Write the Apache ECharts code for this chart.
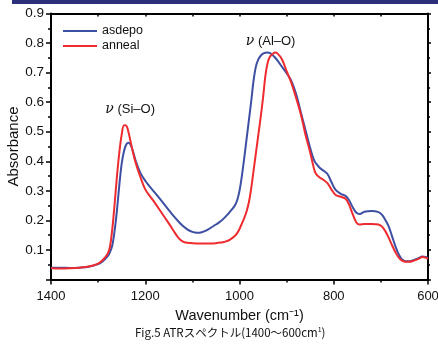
<!DOCTYPE html>
<html>
<head>
<meta charset="utf-8">
<script src="https://cdn.jsdelivr.net/npm/echarts@6/dist/echarts.min.js"></script>
<style>
  html, body { margin: 0; padding: 0; background: #ffffff; }
  #chart { width: 438px; height: 349px; }
</style>
</head>
<body>
<div id="chart"></div>
<script>
// Wavenumber grid (cm^-1) shared by both spectra
var wavenumbers = [1400,1380,1360,1340,1320,1300,1290,1280,1275,1270,1265,1260,1255,1250,1245,1240,1235,1230,1225,1220,1210,1200,1190,1180,1170,1160,1150,1140,1130,1120,1110,1100,1090,1080,1070,1060,1050,1040,1030,1020,1010,1005,1000,995,990,985,980,975,970,965,960,955,950,945,940,935,930,925,920,910,900,890,880,870,860,850,845,840,835,830,820,813,805,796,785,775,768,760,752,745,735,720,705,697,690,683,676,669,662,655,648,640,630,620,612,605,600];

// Absorbance, as-deposited film
var asdepo = [0.040,0.040,0.039,0.040,0.043,0.052,0.062,0.078,0.092,0.115,0.165,0.235,0.320,0.392,0.435,0.458,0.463,0.452,0.428,0.400,0.360,0.334,0.313,0.295,0.275,0.255,0.235,0.215,0.197,0.181,0.169,0.161,0.158,0.160,0.166,0.176,0.186,0.197,0.212,0.230,0.250,0.268,0.300,0.350,0.410,0.475,0.540,0.605,0.675,0.722,0.745,0.757,0.764,0.767,0.768,0.766,0.760,0.752,0.742,0.720,0.698,0.672,0.628,0.567,0.506,0.445,0.418,0.398,0.388,0.378,0.366,0.356,0.330,0.303,0.290,0.283,0.270,0.245,0.226,0.222,0.229,0.232,0.228,0.218,0.200,0.178,0.145,0.112,0.085,0.068,0.062,0.062,0.066,0.072,0.078,0.076,0.072];

// Absorbance, annealed film
var anneal = [0.038,0.037,0.038,0.040,0.044,0.054,0.066,0.086,0.110,0.170,0.255,0.350,0.430,0.490,0.522,0.520,0.495,0.458,0.423,0.393,0.345,0.305,0.282,0.260,0.237,0.213,0.190,0.165,0.142,0.128,0.124,0.123,0.122,0.122,0.122,0.122,0.123,0.125,0.128,0.135,0.147,0.157,0.171,0.189,0.208,0.230,0.262,0.310,0.370,0.430,0.490,0.550,0.615,0.690,0.735,0.755,0.762,0.768,0.766,0.745,0.705,0.665,0.615,0.560,0.490,0.430,0.395,0.365,0.352,0.345,0.335,0.325,0.305,0.286,0.280,0.273,0.255,0.222,0.193,0.186,0.188,0.188,0.186,0.178,0.162,0.140,0.115,0.092,0.074,0.064,0.060,0.060,0.064,0.070,0.076,0.074,0.070];

// Axis ranges and peak labels
var xRange = [600, 1400];
var yRange = [0, 0.9];
var bandLabels = [
  { name: 'Si-O', at: [1232, 0.575] },
  { name: 'Al-O', at: [934, 0.807] }
];

function pairs(ys) {
  return wavenumbers.map(function (w, i) { return [w, ys[i]]; });
}

var FONT = '"Liberation Sans", Arial, sans-serif';
var chart = echarts.init(document.getElementById('chart'), null, { renderer: 'canvas' });

var bandMarks = bandLabels.map(function (b) {
  return {
    coord: b.at,
    symbol: 'circle',
    symbolSize: 0,
    label: {
      show: true,
      position: 'inside',
      formatter: '{nu|ν}{t| (' + b.name.replace('-', '–') + ')}',
      rich: {
        nu: { fontFamily: '"DejaVu Serif", serif', fontStyle: 'italic', fontSize: 14, color: '#111' },
        t: { fontFamily: FONT, fontSize: 13, color: '#111' }
      }
    }
  };
});

var axisLineStyle = { color: '#000', width: 2 };
var lineIcon = 'path://M0,0 L34,0 L34,2 L0,2 Z';

chart.setOption({
  animation: false,
  backgroundColor: '#ffffff',
  grid: { left: 51, right: 10, top: 13.5, bottom: 69.5, containLabel: false, outerBoundsMode: 'none' },
  legend: {
    left: 63, top: 24, orient: 'vertical', padding: 0,
    itemWidth: 34, itemHeight: 2, itemGap: 1,
    textStyle: { fontFamily: FONT, fontSize: 12.5, color: '#111', lineHeight: 14 },
    data: [
      { name: 'asdepo', icon: lineIcon },
      { name: 'anneal', icon: lineIcon }
    ]
  },
  xAxis: [
    {
      type: 'value', min: xRange[0], max: xRange[1], interval: 200, inverse: true,
      name: 'Wavenumber (cm⁻¹)', nameLocation: 'middle', nameGap: 29, nameMoveOverlap: false,
      nameTextStyle: { fontFamily: FONT, fontSize: 14.5, color: '#111' },
      axisLine: { show: true, onZero: false, lineStyle: axisLineStyle },
      axisTick: { show: true, inside: false, length: 5, lineStyle: { color: '#000', width: 1.5 } },
      minorTick: { show: true, splitNumber: 2, length: 3, lineStyle: { color: '#000', width: 1.5 } },
      axisLabel: {
        fontFamily: FONT, fontSize: 13, color: '#111', margin: 10,
        formatter: function (v) { return String(v); }
      },
      splitLine: { show: false }
    },
    {
      type: 'value', position: 'top', min: xRange[0], max: xRange[1], interval: 100, inverse: true,
      axisLine: { show: true, onZero: false, lineStyle: axisLineStyle },
      axisTick: { show: true, inside: true, length: 3, lineStyle: { color: '#000', width: 1.5 } },
      axisLabel: { show: false },
      splitLine: { show: false }
    }
  ],
  yAxis: [
    {
      type: 'value', min: yRange[0], max: yRange[1], interval: 0.1,
      name: 'Absorbance', nameLocation: 'middle', nameGap: 30, nameMoveOverlap: false,
      nameTextStyle: { fontFamily: FONT, fontSize: 15, color: '#111' },
      axisLine: { show: true, onZero: false, lineStyle: axisLineStyle },
      axisTick: { show: true, inside: false, length: 5, lineStyle: { color: '#000', width: 1.5 } },
      minorTick: { show: true, splitNumber: 2, length: 3, lineStyle: { color: '#000', width: 1.5 } },
      axisLabel: {
        fontFamily: FONT, fontSize: 13.5, color: '#111', margin: 7,
        formatter: function (v) { return v === 0 ? '' : v.toFixed(1); }
      },
      splitLine: { show: false }
    },
    {
      type: 'value', position: 'right', min: yRange[0], max: yRange[1], interval: 0.1,
      axisLine: { show: true, onZero: false, lineStyle: axisLineStyle },
      axisTick: { show: true, inside: false, length: 3, lineStyle: { color: '#000', width: 1.5 } },
      minorTick: { show: true, splitNumber: 2, length: 2, lineStyle: { color: '#000', width: 1.5 } },
      axisLabel: { show: false },
      splitLine: { show: false }
    }
  ],
  series: [
    {
      name: 'asdepo', type: 'line', data: pairs(asdepo), smooth: 0.35,
      symbol: 'none', color: '#3d4fa3',
      lineStyle: { width: 2, color: '#3d4fa3' },
      markPoint: { data: bandMarks, silent: true }
    },
    {
      name: 'anneal', type: 'line', data: pairs(anneal), smooth: 0.35,
      symbol: 'none', color: '#ee2b2f',
      lineStyle: { width: 2, color: '#ee2b2f' }
    }
  ],
  graphic: [
    { type: 'rect', left: 12, top: 0, shape: { width: 426, height: 4 }, style: { fill: '#2c2f7a' } },
    {
      type: 'text', left: 135, top: 326,
      style: {
        text: '{a|Fig.5 ATRスペクトル(1400～600cm}{s|1}{a|)}',
        rich: {
          a: { fontFamily: '"Noto Sans CJK JP", sans-serif', fontSize: 11.5, fill: '#111' },
          s: { fontFamily: '"Noto Sans CJK JP", sans-serif', fontSize: 7, fill: '#111', verticalAlign: 'top', padding: [0, 0, 6, 0] }
        }
      }
    }
  ]
});
</script>
</body>
</html>
